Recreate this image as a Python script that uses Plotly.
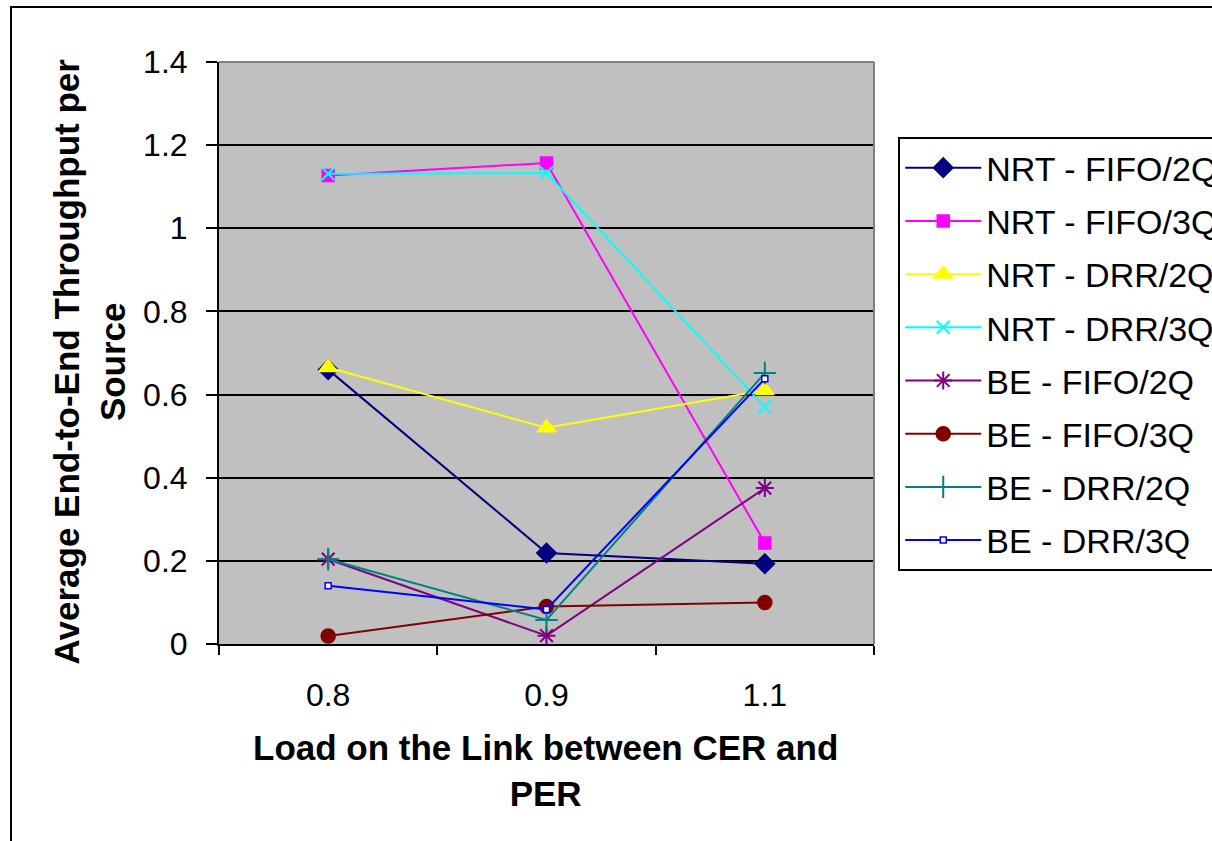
"""Average end-to-end throughput per source versus link load, Excel-style line chart."""

import plotly.graph_objects as go

LOADS = ["0.8", "0.9", "1.1"]

NRT_FIFO_2Q = [0.66, 0.219, 0.193]
NRT_FIFO_3Q = [1.127, 1.157, 0.243]
NRT_DRR_2Q = [0.665, 0.52, 0.61]
NRT_DRR_3Q = [1.131, 1.133, 0.57]
BE_FIFO_2Q = [0.204, 0.02, 0.375]
BE_FIFO_3Q = [0.019, 0.09, 0.1]
BE_DRR_2Q = [0.204, 0.058, 0.652]
BE_DRR_3Q = [0.14, 0.083, 0.638]

SERIES_NAMES = [
    "NRT - FIFO/2Q",
    "NRT - FIFO/3Q",
    "NRT - DRR/2Q",
    "NRT - DRR/3Q",
    "BE - FIFO/2Q",
    "BE - FIFO/3Q",
    "BE - DRR/2Q",
    "BE - DRR/3Q",
]
SERIES_VALUES = [
    NRT_FIFO_2Q,
    NRT_FIFO_3Q,
    NRT_DRR_2Q,
    NRT_DRR_3Q,
    BE_FIFO_2Q,
    BE_FIFO_3Q,
    BE_DRR_2Q,
    BE_DRR_3Q,
]

Y_TITLE = "Average End-to-End Throughput per<br>Source"
X_TITLE = "Load on the Link between CER and<br>PER"

FONT = "Liberation Sans, Arial, sans-serif"
BLACK = "rgb(0, 0, 0)"
PLOT_GRAY = "rgb(192, 192, 192)"
BORDER_GRAY = "rgb(128, 128, 128)"

# (line colour, marker symbol, marker size, marker fill, marker outline)
STYLES = [
    ("#000080", "diamond", 15, "#000080", "#000080"),
    ("#FF00FF", "square", 12, "#FF00FF", "#FF00FF"),
    ("#FFFF00", "triangle-up", 16, "#FFFF00", "#FFFF00"),
    ("#00FFFF", "x-thin", 13, "#00FFFF", "#00FFFF"),
    ("#800080", "asterisk", 15, "#800080", "#800080"),
    ("#800000", "circle", 14, "#800000", "#800000"),
    ("#008080", "cross-thin", 16, "#008080", "#008080"),
    ("#0000FF", "square", 6, "#FFFFFF", "#0000FF"),
]


def build_figure():
    """Make the figure with one line trace per series."""
    fig = go.Figure()
    for i, (name, values) in enumerate(zip(SERIES_NAMES, SERIES_VALUES)):
        color, symbol, size, fill, outline = STYLES[i]
        thin = "thin" in symbol or symbol == "asterisk"
        fig.add_trace(
            go.Scatter(
                x=LOADS,
                y=values,
                name=name,
                mode="lines+markers",
                legendgroup=f"g{i}",
                line={"color": color, "width": 2},
                marker={
                    "symbol": symbol,
                    "size": size,
                    "color": fill,
                    "line": {"color": outline, "width": 2 if thin else 1.5},
                },
            )
        )
    return fig


def style_figure(fig):
    """Excel look: gray plot area, black grid, boxed legend running off the page."""
    fig.update_layout(
        width=1212,
        height=841,
        margin={"l": 219, "r": 338, "t": 62, "b": 197, "autoexpand": False},
        paper_bgcolor="white",
        plot_bgcolor=PLOT_GRAY,
        font={"family": FONT, "color": BLACK},
        showlegend=True,
        legend={
            "x": 1.037,
            "y": 0.871,
            "xanchor": "left",
            "yanchor": "top",
            "bordercolor": BLACK,
            "borderwidth": 2,
            "bgcolor": "white",
            "font": {"size": 34, "color": BLACK},
            "itemwidth": 76,
            "tracegroupgap": 6,
        },
        annotations=[
            {
                "text": Y_TITLE,
                "xref": "paper",
                "yref": "paper",
                "x": -0.198,
                "y": 0.486,
                "xanchor": "center",
                "yanchor": "middle",
                "textangle": -90,
                "showarrow": False,
                "font": {"size": 35, "color": BLACK, "weight": "bold"},
            },
            {
                "text": X_TITLE,
                "xref": "paper",
                "yref": "paper",
                "x": 0.498,
                "y": -0.218,
                "xanchor": "center",
                "yanchor": "middle",
                "showarrow": False,
                "font": {"size": 35, "color": BLACK, "weight": "bold"},
            },
        ],
        shapes=[
            # outer chart frame, clipped by the page on the right and bottom
            {
                "type": "rect",
                "xref": "paper",
                "yref": "paper",
                "x0": (11 - 219) / 655,
                "x1": 1.6,
                "y0": -0.5,
                "y1": (644 - 7) / 582,
                "line": {"color": BLACK, "width": 2},
                "layer": "below",
            },
            # gray plot-area border on top and right
            {
                "type": "line",
                "xref": "paper",
                "yref": "paper",
                "x0": 0,
                "x1": 1,
                "y0": 1,
                "y1": 1,
                "line": {"color": BORDER_GRAY, "width": 2},
            },
            {
                "type": "line",
                "xref": "paper",
                "yref": "paper",
                "x0": 1,
                "x1": 1,
                "y0": 0,
                "y1": 1,
                "line": {"color": BORDER_GRAY, "width": 2},
            },
        ],
    )
    fig.update_xaxes(
        type="category",
        range=[-0.5, 2.5],
        showline=True,
        linecolor=BLACK,
        linewidth=2,
        showgrid=False,
        ticks="outside",
        tickson="boundaries",
        ticklen=9,
        tickwidth=2,
        tickcolor=BLACK,
        ticklabelstandoff=22,
        tickfont={"size": 32, "color": BLACK},
    )
    fig.update_yaxes(
        range=[0, 1.4],
        dtick=0.2,
        showline=True,
        linecolor=BLACK,
        linewidth=2,
        showgrid=True,
        gridcolor=BLACK,
        gridwidth=1.5,
        zeroline=False,
        ticks="outside",
        ticklen=11,
        tickwidth=2,
        tickcolor=BLACK,
        ticklabelstandoff=12,
        tickfont={"size": 32, "color": BLACK},
    )


if __name__ == "__main__":
    figure = build_figure()
    style_figure(figure)
    # drop the browser's default body margin so the chart sits at the page corner
    figure.write_html(
        "out.html",
        config={"displayModeBar": False},
        post_script="document.body.style.margin='0';",
    )
